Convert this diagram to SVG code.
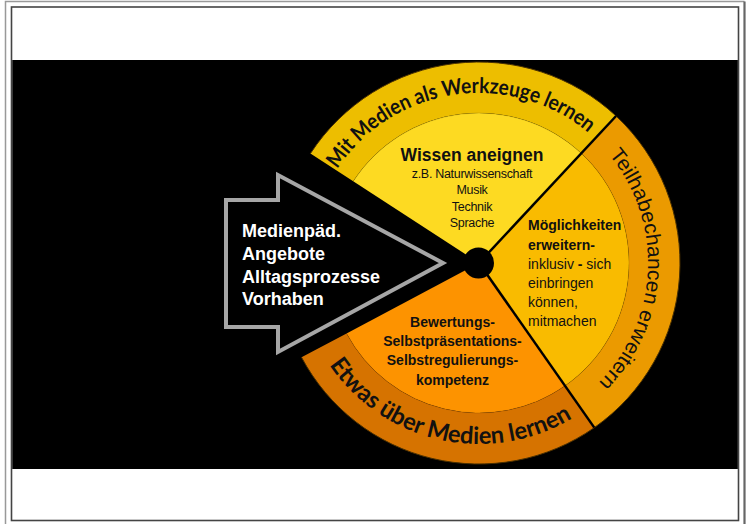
<svg xmlns="http://www.w3.org/2000/svg" width="752" height="524" viewBox="0 0 752 524">
<defs>
<style>
.ring{stroke:none}
.edge{stroke:#4a3000;stroke-width:1;fill:none}
.inner{stroke:#000;stroke-opacity:0.12;stroke-width:1;fill:none}
.pie{stroke:none}
.div{stroke:#000;stroke-width:2.5;fill:none}
.rt{font-family:Lato,"Open Sans",sans-serif;font-weight:bold;fill:#111}
.rr{font-family:"Liberation Sans",Arial,sans-serif;fill:#111}
.b{font-family:"Liberation Sans",Arial,sans-serif;font-weight:bold;fill:#111}
.r{font-family:"Liberation Sans",Arial,sans-serif;fill:#111}
.w{font-family:"Liberation Sans",Arial,sans-serif;font-weight:bold;fill:#fff;font-size:18px}
</style>
<path id="pTop" d="M311.58,233.48 A170 170 0 0 1 631.14,187.15"/>
<path id="pRight" d="M544.08,107.03 A169 169 0 0 1 529.39,424.31"/>
<path id="pBottom" d="M299.61,287.09 A181 181 0 0 0 631.91,359.85"/>
</defs>
<rect x="0" y="0" width="752" height="524" fill="#fff"/>
<g id="frame" fill="none">
<path d="M5.5,530 V1.5 H744.5" stroke="#999" stroke-width="1.5"/>
<path d="M744.5,1.5 V530" stroke="#666" stroke-width="2.2"/>
<rect x="11.5" y="7" width="727" height="513.5" stroke="#444" stroke-width="1.6"/>
</g>
<rect id="band" x="12.3" y="60" width="725.5" height="409" fill="#000"/>
<g id="sectors">
<g id="n-wissen">
<path class="pie" d="M479,263 L353.20,181.30 A150,150 0 0 1 581.30,153.30 Z" fill="#FDDA22"/>
<text class="b" x="472" y="161" font-size="17.5" text-anchor="middle">Wissen aneignen</text>
<text class="r" font-size="12.5" text-anchor="middle" letter-spacing="-0.3"><tspan x="472" y="177.5">z.B. Naturwissenschaft</tspan><tspan x="472" y="194">Musik</tspan><tspan x="472" y="210.5">Technik</tspan><tspan x="472" y="227">Sprache</tspan></text>
</g>
<g id="n-moeglich">
<path class="pie" d="M479,263 L581.30,153.30 A150 150 0 0 1 565.04,385.87 Z" fill="#F9BB00"/>
<text class="b" font-size="14"><tspan x="528" y="230">Möglichkeiten</tspan><tspan x="528" y="249.5">erweitern-</tspan></text>
<text class="r" font-size="14"><tspan x="528" y="269">inklusiv <tspan font-weight="bold">-</tspan> sich</tspan><tspan x="528" y="288">einbringen</tspan><tspan x="528" y="307">können,</tspan><tspan x="528" y="326">mitmachen</tspan></text>
</g>
<g id="n-bewertung">
<path class="pie" d="M479,263 L565.04,385.87 A150 150 0 0 1 346.56,333.42 Z" fill="#FD9300"/>
<text class="b" font-size="14" text-anchor="middle"><tspan x="452.5" y="327">Bewertungs-</tspan><tspan x="452.5" y="346">Selbstpräsentations-</tspan><tspan x="452.5" y="365">Selbstregulierungs-</tspan><tspan x="452.5" y="385">kompetenz</tspan></text>
</g>
<g id="n-werkzeuge">
<path class="ring" d="M310.43,153.53 A201 201 0 0 1 616.08,116.00 L581.30,153.30 A150 150 0 0 0 353.20,181.30 Z" fill="#EDBE00"/>
<path class="edge" d="M310.43,153.53 A201 201 0 0 1 616.08,116.00"/>
<path class="inner" d="M581.30,153.30 A150 150 0 0 0 353.20,181.30"/>
<text class="rt" font-size="21.5"><textPath href="#pTop" startOffset="50%" text-anchor="middle" textLength="286" lengthAdjust="spacingAndGlyphs">Mit Medien als Werkzeuge lernen</textPath></text>
</g>
<g id="n-teilhabe">
<path class="ring" d="M616.08,116.00 A201 201 0 0 1 594.29,427.65 L565.04,385.87 A150 150 0 0 0 581.30,153.30 Z" fill="#EB9A00"/>
<path class="edge" d="M616.08,116.00 A201 201 0 0 1 594.29,427.65"/>
<path class="inner" d="M565.04,385.87 A150 150 0 0 0 581.30,153.30"/>
<text class="rr" font-size="20.5"><textPath href="#pRight" startOffset="50%" text-anchor="middle" textLength="250" lengthAdjust="spacingAndGlyphs">Teilhabechancen erweitern</textPath></text>
</g>
<g id="n-etwas">
<path class="ring" d="M594.29,427.65 A201 201 0 0 1 301.53,357.36 L346.56,333.42 A150 150 0 0 0 565.04,385.87 Z" fill="#D67300"/>
<path class="edge" d="M594.29,427.65 A201 201 0 0 1 301.53,357.36"/>
<path class="inner" d="M346.56,333.42 A150 150 0 0 0 565.04,385.87"/>
<text class="rt" font-size="24"><textPath href="#pBottom" startOffset="50%" text-anchor="middle" textLength="274" lengthAdjust="spacingAndGlyphs">Etwas über Medien lernen</textPath></text>
</g>
</g>
<g id="connectors">
<line class="div" x1="479" y1="263" x2="616.08" y2="116.00"/>
<line class="div" x1="479" y1="263" x2="594.29" y2="427.65"/>
</g>
<circle id="hub" cx="478.5" cy="263" r="15.5" fill="#000"/>
<g id="n-arrow">
<polygon points="226,200 278,200 278,175 443,263 278,352 278,327 226,327" fill="#000" stroke="#A6A6A6" stroke-width="4"/>
<text class="w"><tspan x="242" y="237">Medienpäd.</tspan><tspan x="242" y="260">Angebote</tspan><tspan x="242" y="283">Alltagsprozesse</tspan><tspan x="242" y="305">Vorhaben</tspan></text>
</g>
</svg>
